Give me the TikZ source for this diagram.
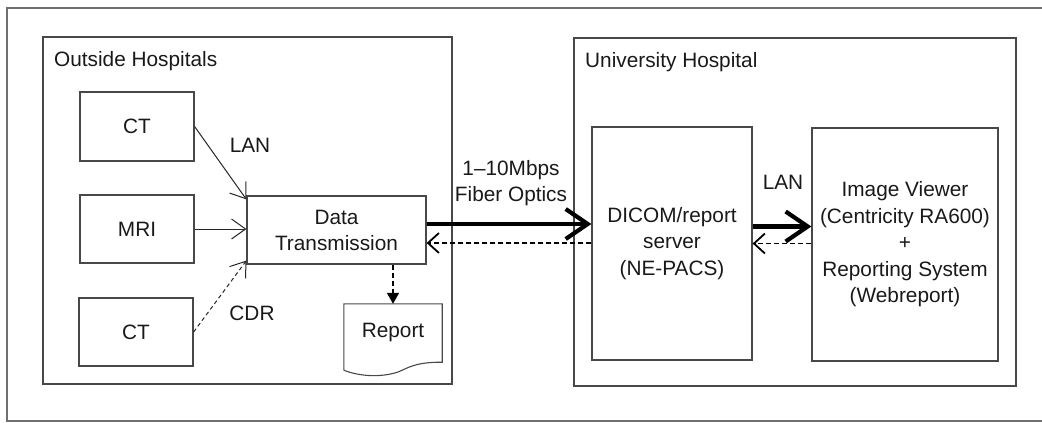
\documentclass[tikz,border=0pt]{standalone}
\usepackage{fontspec}
\setmainfont{Liberation Sans}
\usetikzlibrary{arrows.meta}
\definecolor{frame}{HTML}{707070}
\definecolor{edge}{HTML}{484848}
\begin{document}
\begin{tikzpicture}[x=1pt,y=-1pt,
  every node/.style={font=\fontsize{20.8}{26.5}\selectfont, text=black!90},
  box/.style={draw=edge, line width=1.2pt, inner sep=0pt},
  container/.style={draw=edge, line width=1.2pt, inner sep=0pt},
  thinarrow/.style={draw=black!85, line width=1pt, -{Straight Barb[length=14pt,width=20pt,line width=1pt]}},
  thickarrow/.style={draw=black, line width=4.6pt, -{Straight Barb[length=22pt,width=30pt,line width=4.2pt]}},
  backarrow/.style={draw=black, line width=1.5pt, dash pattern=on 5pt off 3pt, -{Straight Barb[length=11pt,width=20pt,line width=1.8pt]}},
  reportarrow/.style={draw=black, line width=1.6pt, dash pattern=on 5pt off 3pt, -{Triangle[length=11pt,width=12pt]}},
  plain/.style={inner sep=0pt}]
\useasboundingbox (0,0) rectangle (1042,423);

% outer frame (runs off the right edge)
\draw[frame, line width=1.1pt] (1060,8) -- (7,8) -- (7,421) -- (1060,421);

% the two sites
\node[container, minimum width=409, minimum height=347] (outside) at (247.5,210.5) {};
\node[plain, anchor=west] (outsidetitle) at (54,61) {Outside Hospitals};
\node[container, minimum width=442, minimum height=348] (univ) at (795,212) {};
\node[plain, anchor=west] (univtitle) at (585,62) {University Hospital};

% modalities
\node[box, minimum width=114, minimum height=69] (ct1) at (137,126.5) {CT};
\node[box, minimum width=114, minimum height=68] (mri) at (137,229) {MRI};
\node[box, minimum width=114, minimum height=68] (ct2) at (136,332) {CT};

% transmission unit
\node[box, minimum width=179, minimum height=68, align=center] (dt) at (336.5,230) {Data\\[-0.5pt]Transmission};

% report document
\node[plain, minimum width=98, minimum height=58] (report) at (393,333) {Report};
\draw[edge, line width=1.1pt] ([yshift=-8pt]report.south west) -- (report.north west) -- (report.north east) -- (report.south east)
  .. controls (415,362) and (408,368) .. (398,372)
  .. controls (380,378) and (358,376) .. ([yshift=-8pt]report.south west);

% university side
\node[box, minimum width=160, minimum height=233, align=center] (dicom) at (672,243.5) {DICOM/report\\server\\(NE-PACS)};
\node[box, minimum width=186, minimum height=233, align=center] (viewer) at (905,244.5)
  {Image Viewer\\(Centricity RA600)\\+\\Reporting System\\(Webreport)};

% connectors
\draw[thinarrow] (ct1.east) -- ([yshift=-4pt]dt.north west);
\draw[thinarrow] (mri.east) -- (mri.east -| dt.west);
\draw[thinarrow, dash pattern=on 4pt off 3pt] (ct2.east) -- ([yshift=4pt]dt.south west);
\draw[reportarrow] (report.north |- dt.south) -- (report.north);

\draw[thickarrow] ([yshift=6pt]dt.east) -- ([yshift=6pt]dt.east -| dicom.west);
\draw[backarrow] ([yshift=-13pt]dt.east -| dicom.west) -- ([yshift=-13pt]dt.east);
\draw[thickarrow] ([yshift=17pt]dicom.east) -- ([yshift=17pt]dicom.east -| viewer.west);
\draw[backarrow] (viewer.west |- dicom.east) -- (dicom.east);

% connector labels
\node[plain] (lan1) at (250,145) {LAN};
\node[plain] (cdr) at (252,313) {CDR};
\node[plain] (lan2) at (783,182) {LAN};
\node[plain, align=center] (fiber) at (511,183) {1–10Mbps\\Fiber Optics};
\end{tikzpicture}
\end{document}
